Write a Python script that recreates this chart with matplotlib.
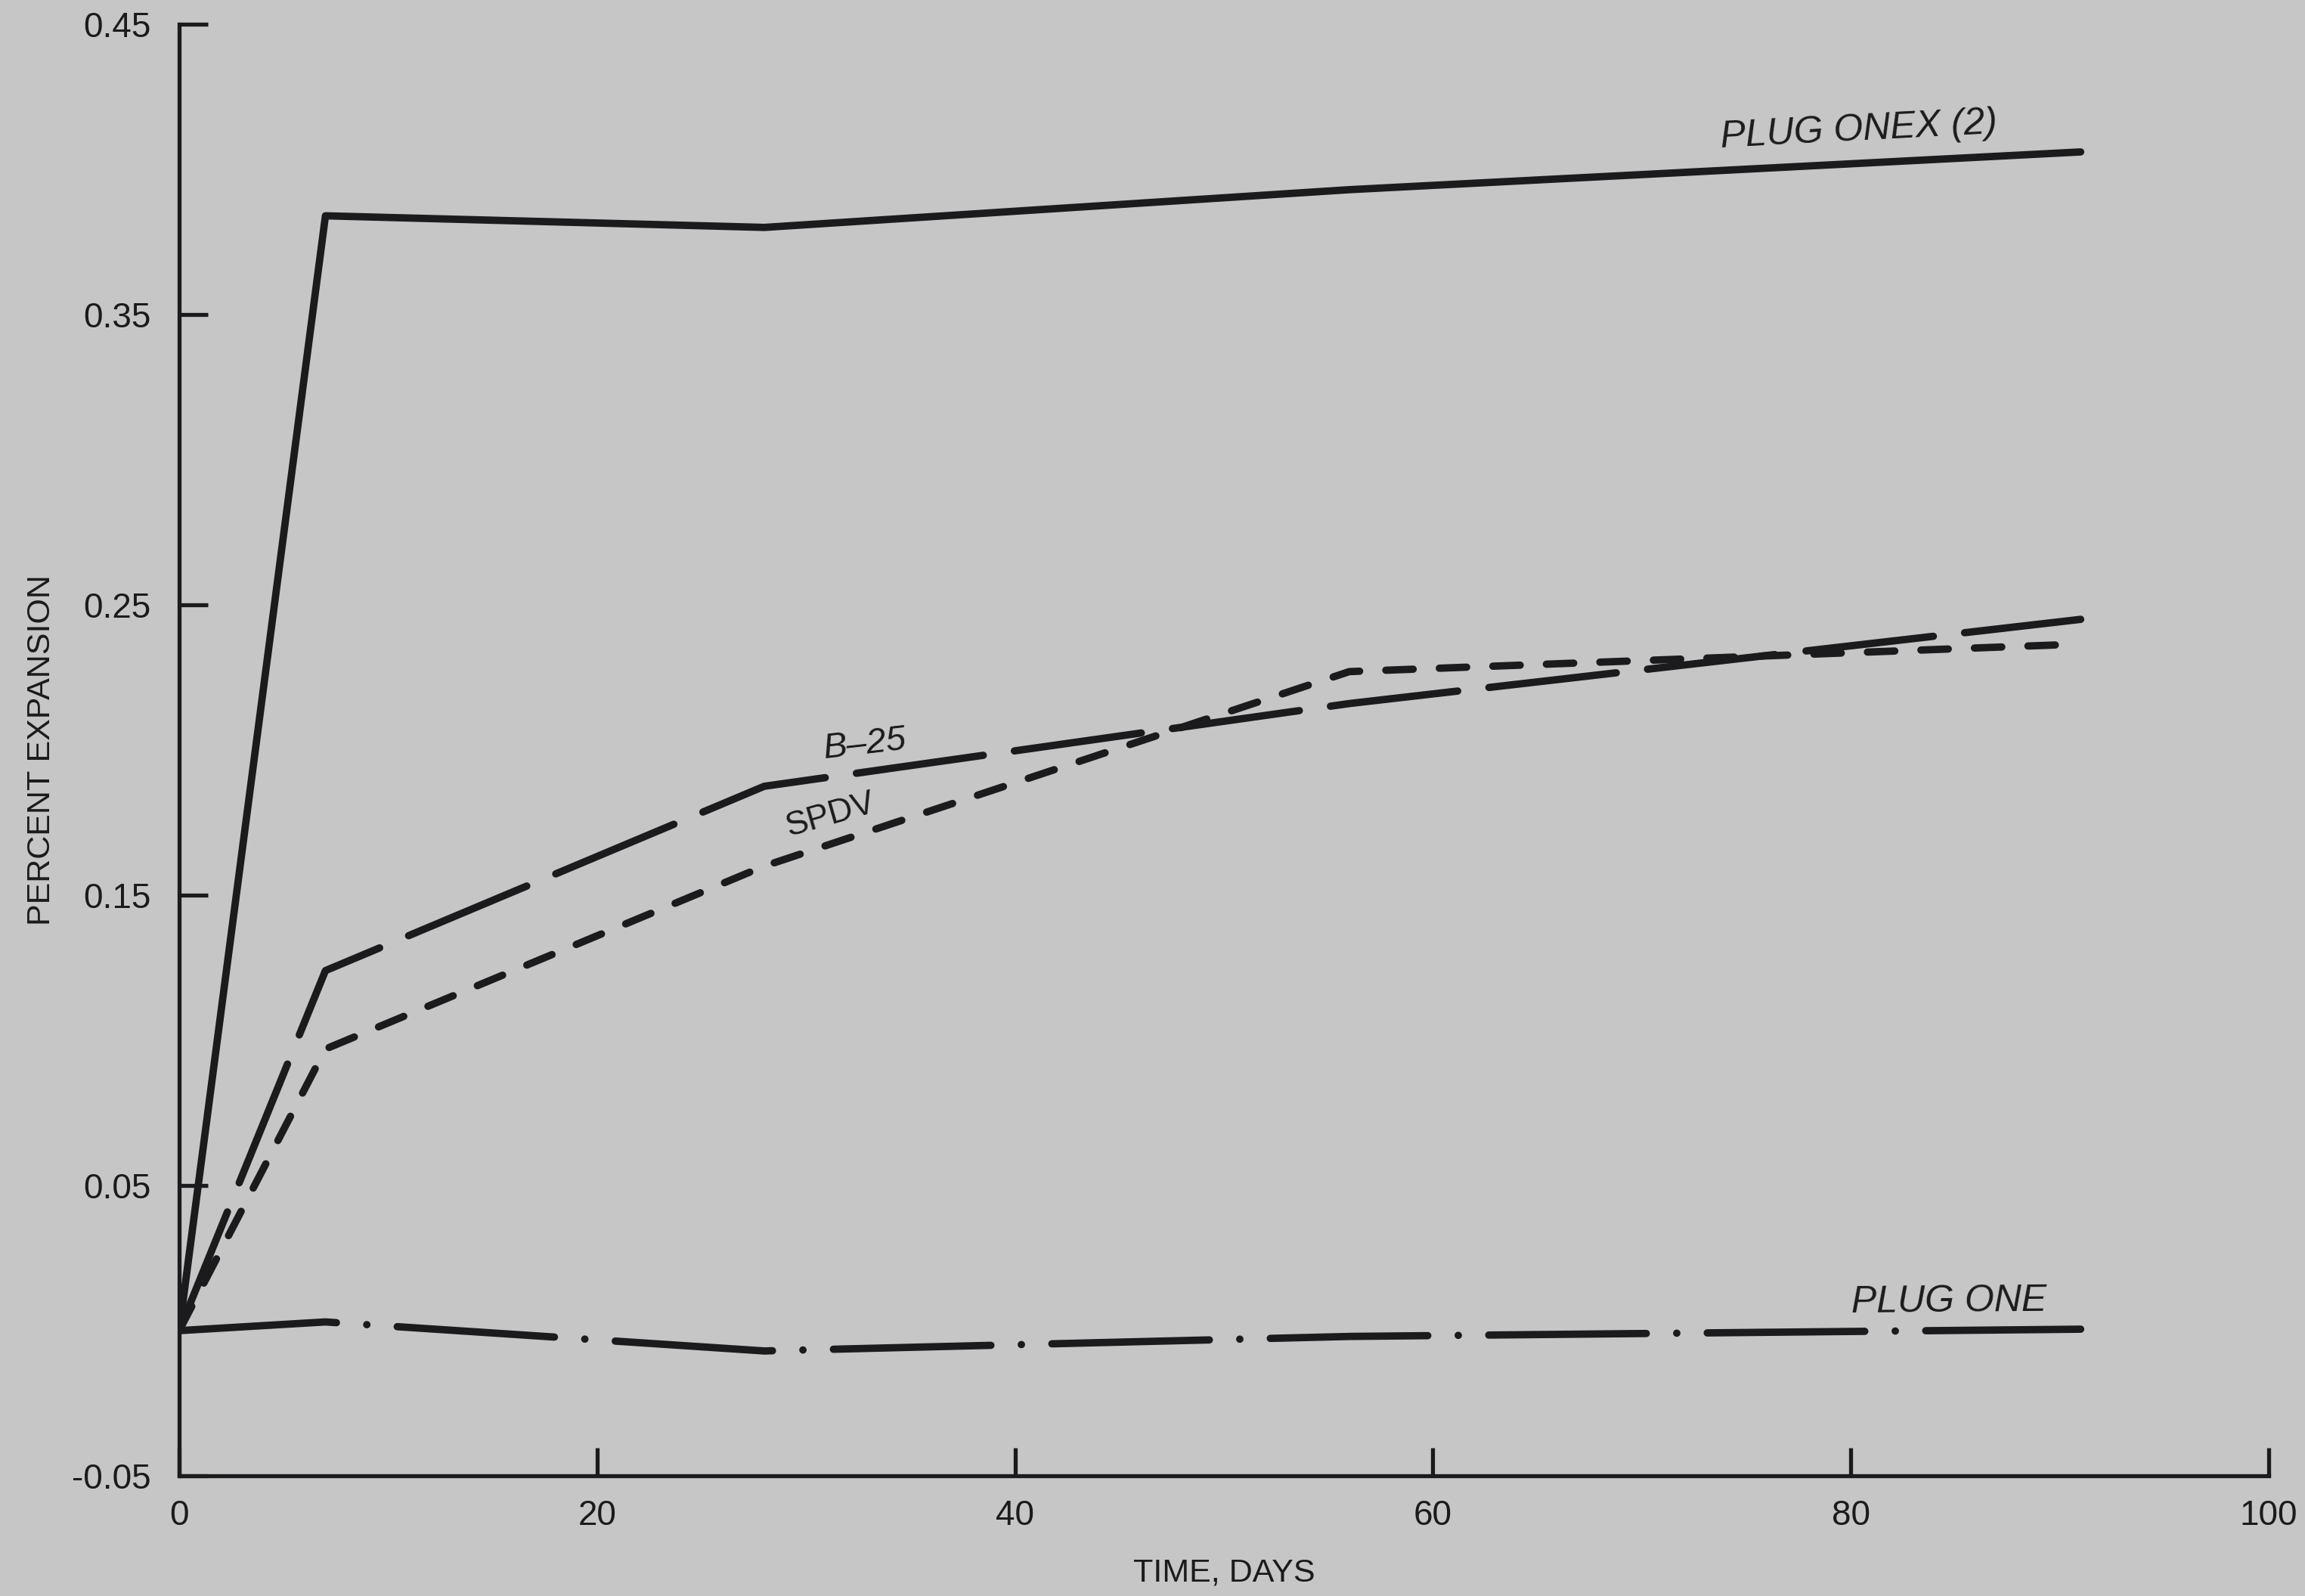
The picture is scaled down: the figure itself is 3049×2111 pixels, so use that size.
import matplotlib.pyplot as plt

plt.rcParams['font.family'] = ['Liberation Sans', 'DejaVu Sans']
plt.rcParams['lines.scale_dashes'] = False

# expansion test results, percent vs. days
days = [0, 7, 28, 56, 91]
plug_onex = [0.0, 0.384, 0.380, 0.393, 0.406]
b25 = [0.0, 0.124, 0.1875, 0.216, 0.245]
spdv = [0.0, 0.097, 0.160, 0.227, 0.2365]
plug_one = [0.0, 0.003, -0.007, -0.002, 0.0005]

xticks = [0, 20, 40, 60, 80, 100]
yticks = [-0.05, 0.05, 0.15, 0.25, 0.35, 0.45]

bg = '#c5c6c5'
ink = '#1b1b1d'

fig = plt.figure(figsize=(30.49, 21.11), dpi=100, facecolor=bg)
ax = fig.add_axes([237/3049, 1 - 1952/2111, (3001 - 237)/3049, (1952 - 32)/2111])
ax.set_facecolor(bg)

lw = 7
ax.plot(days, plug_onex, color=ink, lw=lw, solid_capstyle='round', solid_joinstyle='round')
ax.plot(days, b25, color=ink, lw=lw, linestyle=(0, (122, 30)),
        dash_capstyle='round', dash_joinstyle='round')
ax.plot(days, spdv, color=ink, lw=lw, linestyle=(0, (26, 25)),
        dash_capstyle='round', dash_joinstyle='round')
ax.plot(days, plug_one, color=ink, lw=lw, linestyle=(0, (150, 29, 0.1, 29)),
        dash_capstyle='round', dash_joinstyle='round')

# curve labels
lab = dict(color=ink, fontsize=36, ha='center', va='center')
ax.text(80.4, 0.4135, 'PLUG ONEX (2)', rotation=3, style='italic', **lab)
ax.text(84.7, 0.0099, 'PLUG ONE', rotation=0.5, style='italic', **lab)
ax.text(32.8, 0.2018, 'B–25', rotation=6.5, style='italic', fontsize=34,
        color=ink, ha='center', va='center')
ax.text(31.2, 0.1776, 'SPDV', rotation=16, fontsize=32, color=ink, ha='center', va='center')

ax.set_xlim(0, 100)
ax.set_ylim(-0.05, 0.45)
ax.set_xticks(xticks)
ax.set_xticklabels([str(t) for t in xticks])
ax.set_yticks(yticks)
ax.set_yticklabels(['%.2f' % t for t in yticks])

for s in ['top', 'right']:
    ax.spines[s].set_visible(False)
for s in ['left', 'bottom']:
    ax.spines[s].set_linewidth(3.8)
    ax.spines[s].set_color(ink)
    ax.spines[s].set_capstyle('projecting')

ax.tick_params(axis='both', direction='in', length=27, width=3.8, color=ink,
               labelsize=33, labelcolor=ink)
ax.tick_params(axis='y', pad=27)
ax.tick_params(axis='x', pad=22)

ax.set_ylabel('PERCENT EXPANSION', fontsize=31, color=ink, va='center')
ax.set_xlabel('TIME, DAYS', fontsize=31, color=ink, va='center')
ax.yaxis.set_label_coords(-0.066, 0.5)
ax.xaxis.set_label_coords(0.5, -0.067)

fig.savefig('out.png', dpi=100, facecolor=bg)
